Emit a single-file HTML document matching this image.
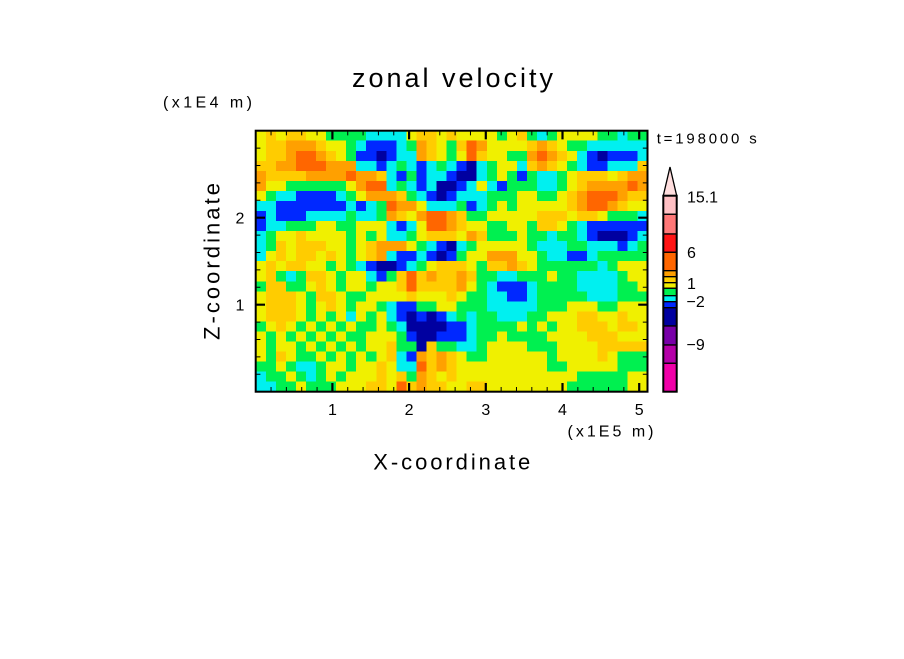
<!DOCTYPE html>
<html>
<head>
<meta charset="utf-8">
<style>
  html,body{margin:0;padding:0;background:#fff;}
  body{width:904px;height:654px;overflow:hidden;}
  svg text{font-family:"Liberation Sans",sans-serif;fill:#000;}
</style>
</head>
<body>
<svg id="s" width="904" height="654" viewBox="0 0 904 654" xmlns="http://www.w3.org/2000/svg">
  <rect x="0" y="0" width="904" height="654" fill="#fff"/>
  <!-- field background fallback -->
  <rect x="255.7" y="130.7" width="391.8" height="261" fill="#f0f000"/>
  <g id="field" shape-rendering="crispEdges"></g>

  <!-- frame -->
  <rect x="255.7" y="130.7" width="391.8" height="261" fill="none" stroke="#000" stroke-width="2"/>

  <!-- minor ticks -->
  <path stroke="#000" stroke-width="1" fill="none" d="
  M271.04 391.7V387 M286.38 391.7V387 M301.72 391.7V387 M317.06 391.7V387
  M347.74 391.7V387 M363.08 391.7V387 M378.42 391.7V387 M393.76 391.7V387
  M424.44 391.7V387 M439.78 391.7V387 M455.12 391.7V387 M470.46 391.7V387
  M501.14 391.7V387 M516.48 391.7V387 M531.82 391.7V387 M547.16 391.7V387
  M577.84 391.7V387 M593.18 391.7V387 M608.52 391.7V387 M623.86 391.7V387
  M271.04 130.7V135.4 M286.38 130.7V135.4 M301.72 130.7V135.4 M317.06 130.7V135.4
  M347.74 130.7V135.4 M363.08 130.7V135.4 M378.42 130.7V135.4 M393.76 130.7V135.4
  M424.44 130.7V135.4 M439.78 130.7V135.4 M455.12 130.7V135.4 M470.46 130.7V135.4
  M501.14 130.7V135.4 M516.48 130.7V135.4 M531.82 130.7V135.4 M547.16 130.7V135.4
  M577.84 130.7V135.4 M593.18 130.7V135.4 M608.52 130.7V135.4 M623.86 130.7V135.4
  M255.7 374.3H260.4 M255.7 356.9H260.4 M255.7 339.5H260.4 M255.7 322.1H260.4
  M255.7 287.3H260.4 M255.7 269.9H260.4 M255.7 252.5H260.4 M255.7 235.1H260.4
  M255.7 200.3H260.4 M255.7 182.9H260.4 M255.7 165.5H260.4 M255.7 148.1H260.4
  M647.5 374.3H642.8 M647.5 356.9H642.8 M647.5 339.5H642.8 M647.5 322.1H642.8
  M647.5 287.3H642.8 M647.5 269.9H642.8 M647.5 252.5H642.8 M647.5 235.1H642.8
  M647.5 200.3H642.8 M647.5 182.9H642.8 M647.5 165.5H642.8 M647.5 148.1H642.8
  "/>
  <!-- major ticks -->
  <path stroke="#000" stroke-width="2.2" fill="none" d="
  M332.4 391.7V383 M409.1 391.7V383 M485.8 391.7V383 M562.5 391.7V383 M639.2 391.7V383
  M332.4 130.7V139.4 M409.1 130.7V139.4 M485.8 130.7V139.4 M562.5 130.7V139.4 M639.2 130.7V139.4
  M255.7 304.7H265 M255.7 217.7H265
  M647.5 304.7H638.2 M647.5 217.7H638.2
  "/>

  <!-- title -->
  <text x="352" y="87" font-size="27" textLength="201" lengthAdjust="spacing">zonal velocity</text>
  <!-- unit labels -->
  <text x="163" y="107.5" font-size="16" textLength="89" lengthAdjust="spacing">(x1E4 m)</text>
  <text x="567.5" y="436.5" font-size="16" textLength="86" lengthAdjust="spacing">(x1E5 m)</text>
  <!-- axis titles -->
  <text x="373.3" y="469.3" font-size="22" textLength="157" lengthAdjust="spacing">X-coordinate</text>
  <text transform="translate(219.5,340) rotate(-90)" x="0" y="0" font-size="22" textLength="157" lengthAdjust="spacing">Z-coordinate</text>
  <!-- tick labels -->
  <g font-size="16" text-anchor="middle">
    <text x="332.4" y="415">1</text>
    <text x="409.1" y="415">2</text>
    <text x="485.8" y="415">3</text>
    <text x="562.5" y="415">4</text>
    <text x="639.2" y="415">5</text>
    <text x="240" y="223.3">2</text>
    <text x="240" y="310.5">1</text>
  </g>
  <!-- time label -->
  <text x="656.7" y="143.3" font-size="15" textLength="100" lengthAdjust="spacing">t=198000 s</text>

  <!-- colorbar -->
  <g stroke="#000" stroke-width="1.3">
    <polygon points="663.3,195.7 670,167 676.7,195.7" fill="#ffdede"/>
    <rect x="663.3" y="195.7" width="13.4" height="18.6" fill="#ffc0c4"/>
    <rect x="663.3" y="214.3" width="13.4" height="19.7" fill="#ff7878"/>
    <rect x="663.3" y="234" width="13.4" height="18.3" fill="#ff1414"/>
    <rect x="663.3" y="252.3" width="13.4" height="18.4" fill="#ff6600"/>
    <rect x="663.3" y="270.7" width="13.4" height="6" fill="#ffa000"/>
    <rect x="663.3" y="276.7" width="13.4" height="6" fill="#ffd000"/>
    <rect x="663.3" y="282.7" width="13.4" height="5.6" fill="#f0f000"/>
    <rect x="663.3" y="288.3" width="13.4" height="7.4" fill="#00f050"/>
    <rect x="663.3" y="295.7" width="13.4" height="6" fill="#00f0f0"/>
    <rect x="663.3" y="301.7" width="13.4" height="6" fill="#0028ff"/>
    <rect x="663.3" y="307.7" width="13.4" height="18.3" fill="#0000a0"/>
    <rect x="663.3" y="326" width="13.4" height="19" fill="#7800a8"/>
    <rect x="663.3" y="345" width="13.4" height="18.3" fill="#b400a8"/>
    <rect x="663.3" y="363.3" width="13.4" height="28.4" fill="#f000a8"/>
  </g>
  <rect x="663.3" y="195.7" width="13.4" height="196" fill="none" stroke="#000" stroke-width="2"/>
  <g font-size="16">
    <text x="687" y="202.3" textLength="31" lengthAdjust="spacing">15.1</text>
    <text x="687" y="257.8">6</text>
    <text x="687" y="289">1</text>
    <text x="686.5" y="307">−2</text>
    <text x="686.5" y="350">−9</text>
  </g>
</svg>
<script>
(function(){
  var rows=[
  "YGYGGYYggggcc"+"ccYGGYGYYYYgY"+"GgcgYYYYggcgg",
  "YGGOOOGYYgcbb"+"bcgOGYgGROYYY"+"YGOGYggcccccc",
  "YGGORROGYgbbd"+"bccOGYgYRGYYg"+"gOROGYcbdbbbc",
  "GGOORRROOOccb"+"cgcbcgcbdcgYY"+"cGOGYgcbbcccG",
  "OGGGGOOOOROOG"+"cbgbccbddcgYg"+"bgccgYGGGYGOO",
  "OYYggggggYORR"+"cgcbcddbcYcbg"+"ggccgYGOOOORO",
  "YgccbbbbcgYOO"+"OGgcbdbcccggg"+"YYggYGORRROGG",
  "ccbbbbbbbcbcg"+"ROOYcccgbcgYg"+"YYYYYGORROGYY",
  "bcbbbccccgccg"+"OGYORROGggYYY"+"YYGGGYGGYgggc",
  "bccgggYYggYYY"+"cbcYRROGYYggY"+"YgGGYgcbbbbbb",
  "cgYYGYYYYgYgY"+"ccgYGGGYOGggg"+"Yggcggcbdddbc",
  "cgGYGGGYYgYGO"+"OOYgcbdcgYYYY"+"Ygcccggcccbcg",
  "cYGYGGYGYgYGO"+"cbbcbdbgYYOOO"+"YYgccbbcggggg",
  "YGYGGYYgYgcbddbcgYGG"+"GYgGGOGYggggggcgYYY",
  "YGgcgGGYgYYcbgGRGOGG"+"OGggccgggYggccccgYY",
  "gGGggYGYgYYgYYGRGGGG"+"OYgcbbbcggggccccggY",
  "YGGGYgGGYggYYYYGYYYG"+"Yggccbbcgggggcccggg",
  "YGGGYgYGYgYYgcbbggYY"+"gggcccccgggYYYggYYY",
  "YGGGYgYgYcYgYcbdbdbc"+"gcggcccggYYYGGYYGYY",
  "gYGYgYgYgYggYgcddddb"+"bcggggYgYgYYGGGYGGY",
  "YgYgYgYgYggYYYgbddbb"+"bcggYggggYYYYGGGYYY",
  "YgYYgYgYgYgYYGggdGgg"+"ccgYYYYgggYYYYGGGGG",
  "YgGYggYgYgYgYGcbOGOG"+"YggYYYYYYgYYYYGYggg",
  "ggYgccgYYgYYGYccRGOG"+"YYYYYYYYYggYYYYYggg",
  "cggYgcgYgYYYGYGgOGYG"+"YYYYYYYYYYYYgggggYY",
  "ccggYgggYYYGGYRGOGGY"+"YGGYYYYYYYYggggggYY"
  ];
  var cmap={Y:'#f0f000',G:'#ffcc00',O:'#ffa000',R:'#ff6600',g:'#00f050',c:'#00f0f0',b:'#0028ff',d:'#0000a0'};
  var ns='http://www.w3.org/2000/svg';
  var grp=document.getElementById('field');
  var x0=255.7,y0=130.7,cw=391.8/39,chh=261/26;
  for(var j=0;j<rows.length;j++){
    var r=rows[j],i=0;
    while(i<39){
      var c=r.charAt(i)||'Y',k=i;
      while(k<39&&(r.charAt(k)||'Y')===c)k++;
      var e=document.createElementNS(ns,'rect');
      var w=(k-i)*cw+0.6, h=chh+0.6;
      var xx=x0+i*cw, yy=y0+j*chh;
      if(xx+w>647.5)w=647.5-xx;
      if(yy+h>391.7)h=391.7-yy;
      e.setAttribute('x',xx.toFixed(2));
      e.setAttribute('y',yy.toFixed(2));
      e.setAttribute('width',w.toFixed(2));
      e.setAttribute('height',h.toFixed(2));
      e.setAttribute('fill',cmap[c]||'#f0f000');
      grp.appendChild(e);
      i=k;
    }
  }
})();
</script>
</body>
</html>
